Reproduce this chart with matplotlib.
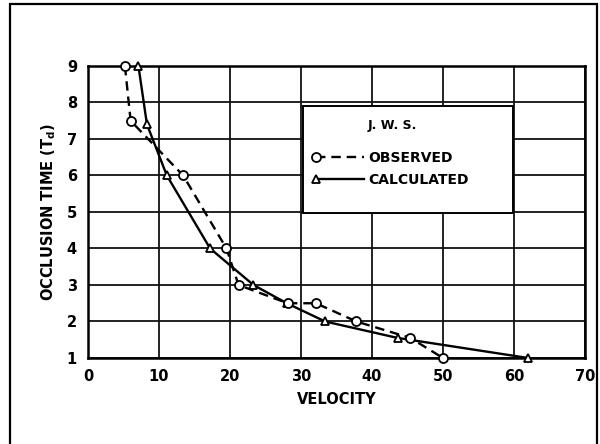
import matplotlib
matplotlib.use("Agg")
import matplotlib.pyplot as plt
from matplotlib.legend_handler import HandlerLine2D
from matplotlib.patches import Rectangle

# data
obs_vel = [5.2, 6.0, 13.4, 19.5, 21.2, 28.1, 32.1, 37.8, 45.4, 50.0]
obs_time = [9.0, 7.5, 6.0, 4.0, 3.0, 2.5, 2.5, 2.0, 1.55, 1.0]

calc_vel = [7.1, 8.3, 11.1, 17.2, 23.3, 28.0, 33.4, 43.6, 62.0]
calc_time = [9.0, 7.4, 6.0, 4.0, 3.0, 2.5, 2.0, 1.55, 1.0]

x_ticks = [0, 10, 20, 30, 40, 50, 60, 70]
y_ticks = [1, 2, 3, 4, 5, 6, 7, 8, 9]


class MarkerAtStart(HandlerLine2D):
    # legend handle with the marker on the left end of the line
    def create_artists(self, legend, orig_handle, xdescent, ydescent,
                       width, height, fontsize, trans):
        arts = super().create_artists(legend, orig_handle, xdescent, ydescent,
                                      width, height, fontsize, trans)
        for a in arts:
            a.set_markevery([0])
        return arts


fig = plt.figure(figsize=(6.0, 4.44), dpi=100)
ax = fig.add_axes([0.1467, 0.1937, 0.8283, 0.6577])

# outer frame of the picture (open at the bottom)
fig.patches.append(Rectangle((10 / 600, -0.05), 587 / 600, 1 - 4 / 444 + 0.05,
                             transform=fig.transFigure, fill=False,
                             edgecolor="black", linewidth=1.6))

ax.set_xlim(0, 70)
ax.set_ylim(1, 9)
ax.set_xticks(x_ticks)
ax.set_yticks(y_ticks)
ax.grid(True, color="#111111", linewidth=1.3)
ax.set_axisbelow(True)
for s in ax.spines.values():
    s.set_linewidth(1.8)
ax.tick_params(length=0, labelsize=10.5, pad=8)
for lab in ax.get_xticklabels() + ax.get_yticklabels():
    lab.set_fontweight("bold")

ax.set_xlabel("VELOCITY", fontsize=10.5, fontweight="bold", labelpad=6)
ax.set_ylabel("OCCLUSION TIME (T$_{\\mathbf{d}}$)", fontsize=10.5,
              fontweight="bold", labelpad=6)

# white legend box sitting on the grid
ax.add_patch(Rectangle((30.3, 4.97), 29.6, 2.93, facecolor="white",
                       edgecolor="black", linewidth=1.4, zorder=2.5))

l_obs, = ax.plot(obs_vel, obs_time, color="black", linewidth=1.7,
                 linestyle=(0, (4, 2.5)), marker="o", markersize=6.5,
                 markerfacecolor="white", markeredgecolor="black",
                 markeredgewidth=1.3, clip_on=False, zorder=4,
                 label="OBSERVED")
l_calc, = ax.plot(calc_vel, calc_time, color="black", linewidth=1.7,
                  linestyle="-", marker="^", markersize=5.5,
                  markerfacecolor="white", markeredgecolor="black",
                  markeredgewidth=1.3, clip_on=False, zorder=3,
                  label="CALCULATED")

leg = ax.legend(handles=[l_obs, l_calc], title="J. W. S.", frameon=False,
                loc="upper left", bbox_to_anchor=(31.2, 7.75),
                bbox_transform=ax.transData, handlelength=3.4,
                handletextpad=0.3, labelspacing=0.55, borderpad=0,
                prop={"weight": "bold", "size": 10},
                handler_map={l_obs: MarkerAtStart(), l_calc: MarkerAtStart()})
leg.get_title().set_fontweight("bold")
leg.get_title().set_fontsize(9)
leg._legend_box.sep = 14
leg.set_zorder(5)

fig.savefig("out.png", dpi=100)
